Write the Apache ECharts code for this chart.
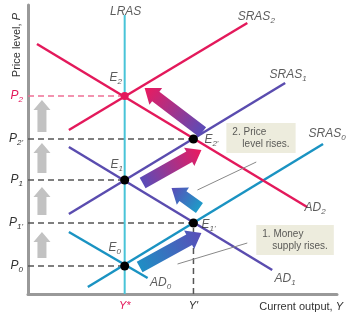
<!DOCTYPE html>
<html>
<head>
<meta charset="UTF-8">
<script src="https://cdn.jsdelivr.net/npm/echarts@6/dist/echarts.min.js"></script>
<style>
html, body { margin: 0; padding: 0; background: #fff; }
#main { width: 346px; height: 315px; }
</style>
</head>
<body>
<div id="main"></div>
<script>
// values (x = output, y = price level, arbitrary units)
var lras  = [[97, 0], [97, 279]];
var sras2 = [[41, 164], [220, 271]];
var ad2   = [[9, 250], [280, 87]];
var sras1 = [[41, 80], [258, 211]];
var ad1   = [[41, 147], [245, 24]];
var sras0 = [[60, 7], [296, 150]];
var ad0   = [[41, 62], [120, 16]];

var yStar = 97, yPrime = 166;
var pLevels = [28, 71, 114, 155, 198];
var pSubs = ['0', "1'", '1', "2'", '2'];

// equilibrium points
var eqPoints = [[166, 155], [97, 114], [166, 71], [97, 28]];
var eqTop = [[97, 198]];

// shift arrows: [x tail, y tail, x tip, y tip]
var shiftArrows = [[112, 27, 174, 61], [172, 86, 144, 106], [115, 111, 174, 144], [175, 162, 117, 206]];
var priceArrows = [[14, 36, 14, 62], [14, 79, 14, 107], [14, 121, 14, 151], [14, 162, 14, 194]];

// curve labels
var curveLabelPos = [[98, 282], [229, 277], [261, 219], [300, 160], [288, 86], [258, 15], [133, 11]];
var curveLabelText = ['LRAS', 'SRAS|2', 'SRAS|1', 'SRAS|0', 'AD|2', 'AD|1', 'AD|0'];
var eLabelPos = [[88, 216], [184, 154], [89, 129], [181, 69], [87, 46]];
var eLabelText = ['E|2', "E|2'", 'E|1', "E|1'", 'E|0'];

// notes
var notePos = [[199, 171], [229, 69]];
var noteLines = [['2. Price', 'level rises.'], ['1. Money', 'supply rises.']];
var leader1 = [[229, 132], [170, 104]];
var leader2 = [[220, 51], [150, 30]];

var RED = '#e3195b', PURPLE = '#5a4caf', BLUE = '#1a93c2', CYAN = '#48c4d8';

var chart = echarts.init(document.getElementById('main'));

var richSub = {
	v: { fontStyle: 'italic', fontSize: 12, color: '#333', fontFamily: 'Liberation Sans' },
	s: { fontStyle: 'italic', fontSize: 8, color: '#333', fontFamily: 'Liberation Sans', padding: [7, 0, 0, 0] },
	r: { fontStyle: 'italic', fontSize: 12, color: RED, fontFamily: 'Liberation Sans' },
	rs: { fontStyle: 'italic', fontSize: 8, color: RED, fontFamily: 'Liberation Sans', padding: [7, 0, 0, 0] }
};

function subText(t) {
	var parts = t.split('|');
	if (parts.length < 2) return '{v|' + parts[0] + '}';
	return '{v|' + parts[0] + '}{s|' + parts[1] + '}';
}

function lineSeries(data, color, width, type) {
	return {
		type: 'line',
		data: data,
		symbol: 'none',
		silent: true,
		z: 2,
		lineStyle: { color: color, width: width, type: type || 'solid' }
	};
}

function arrowRender(colors, bw, hw, hl) {
	return function (params, api) {
		var p0 = api.coord([api.value(0), api.value(1)]);
		var p1 = api.coord([api.value(2), api.value(3)]);
		var dx = p1[0] - p0[0], dy = p1[1] - p0[1];
		var len = Math.sqrt(dx * dx + dy * dy);
		dx /= len; dy /= len;
		var nx = -dy, ny = dx;
		var bx = p1[0] - dx * hl, by = p1[1] - dy * hl;
		var pts = [
			[p0[0] + nx * bw, p0[1] + ny * bw],
			[bx + nx * bw, by + ny * bw],
			[bx + nx * hw, by + ny * hw],
			[p1[0], p1[1]],
			[bx - nx * hw, by - ny * hw],
			[bx - nx * bw, by - ny * bw],
			[p0[0] - nx * bw, p0[1] - ny * bw]
		];
		var c = colors[params.dataIndex % colors.length];
		var fill = typeof c === 'string' ? c : new echarts.graphic.LinearGradient(
			p0[0], p0[1], p1[0], p1[1],
			[{ offset: 0, color: c[0] }, { offset: 1, color: c[1] }], true);
		return { type: 'polygon', shape: { points: pts }, style: { fill: fill } };
	};
}

var hLines = [];
pLevels.forEach(function (p, i) {
	var xEnd = (i % 2 === 0) ? yStar : yPrime;
	hLines.push(lineSeries([[0, p], [xEnd, p]], i === 4 ? '#ee6f95' : '#555', 1.5, [6, 4]));
});
hLines.push(lineSeries([[yPrime, 0], [yPrime, pLevels[1]]], '#555', 1.5, [6, 4]));

var option = {
	animation: false,
	grid: { left: 28, right: 8, top: 5, bottom: 21 },
	xAxis: {
		type: 'value', min: 0, max: 310,
		splitLine: { show: false },
		axisTick: { show: false },
		axisLine: { lineStyle: { color: '#999', width: 3 } },
		name: 'Current output, {i|Y}',
		nameLocation: 'end',
		nameGap: 6,
		nameTextStyle: {
			align: 'right', verticalAlign: 'top', padding: [7, 0, 0, 0],
			color: '#333', fontSize: 11, fontFamily: 'Liberation Sans',
			rich: { i: { fontStyle: 'italic', color: '#333', fontSize: 11, fontFamily: 'Liberation Sans' } }
		},
		axisLabel: {
			customValues: [yStar, yPrime],
			margin: 6,
			formatter: function (v) { return v === yStar ? '{r|Y*}' : '{v|Y\'}'; },
			rich: {
				r: { fontStyle: 'italic', fontSize: 11, color: RED, fontFamily: 'Liberation Sans' },
				v: { fontStyle: 'italic', fontSize: 11, color: '#333', fontFamily: 'Liberation Sans' }
			}
		}
	},
	yAxis: {
		type: 'value', min: 0, max: 289,
		splitLine: { show: false },
		axisTick: { show: false },
		axisLine: { lineStyle: { color: '#999', width: 3 } },
		name: 'Price level, {i|P}',
		nameLocation: 'end',
		nameRotate: 90,
		nameGap: -8,
		nameTextStyle: {
			align: 'right', verticalAlign: 'bottom', padding: [0, 0, 6, 0],
			color: '#333', fontSize: 11, fontFamily: 'Liberation Sans',
			rich: { i: { fontStyle: 'italic', color: '#333', fontSize: 11, fontFamily: 'Liberation Sans' } }
		},
		axisLabel: {
			customValues: pLevels,
			margin: 5,
			formatter: function (v) {
				var i = pLevels.indexOf(v);
				return i === 4 ? '{r|P}{rs|' + pSubs[i] + '}' : '{v|P}{s|' + pSubs[i] + '}';
			},
			rich: richSub
		}
	},
	series: hLines.concat([
		lineSeries(lras, CYAN, 2),
		lineSeries(sras0, BLUE, 2.5),
		lineSeries(ad0, BLUE, 2.5),
		lineSeries(sras1, PURPLE, 2.5),
		lineSeries(ad1, PURPLE, 2.5),
		lineSeries(sras2, RED, 2.5),
		lineSeries(ad2, RED, 2.5),
		lineSeries(leader1, '#888', 1),
		lineSeries(leader2, '#888', 1),
		{
			type: 'custom',
			silent: true,
			z: 3,
			renderItem: arrowRender(['#c2c2c2'], 4.5, 8.5, 10),
			encode: { x: [0, 2], y: [1, 3] },
			data: priceArrows
		},
		{
			type: 'custom',
			silent: true,
			z: 3,
			renderItem: arrowRender([
				['#1f8ec4', '#5a4cb8'],
				['#1e9bc8', '#5a4cb8'],
				['#5a4cb8', '#ec1a5e'],
				['#5a4cb8', '#ec1a5e']
			], 6, 10.5, 14),
			encode: { x: [0, 2], y: [1, 3] },
			data: shiftArrows
		},
		{
			type: 'scatter',
			silent: true,
			z: 10,
			symbolSize: 9,
			itemStyle: { color: '#000', opacity: 1 },
			data: eqPoints
		},
		{
			type: 'scatter',
			silent: true,
			z: 10,
			symbolSize: 8,
			itemStyle: { color: RED, opacity: 1 },
			data: eqTop
		},
		{
			type: 'scatter',
			silent: true,
			z: 10,
			symbolSize: 0,
			data: curveLabelPos.map(function (p, i) { return { value: p, name: curveLabelText[i] }; }),
			label: {
				show: true, position: 'inside',
				align: 'center', verticalAlign: 'middle',
				formatter: function (p) { return subText(p.name); },
				rich: richSub
			}
		},
		{
			type: 'scatter',
			silent: true,
			z: 10,
			symbolSize: 0,
			data: eLabelPos.map(function (p, i) { return { value: p, name: eLabelText[i] }; }),
			label: {
				show: true, position: 'inside',
				formatter: function (p) { return subText(p.name); },
				rich: richSub
			}
		},
		{
			type: 'scatter',
			silent: true,
			z: 10,
			symbolSize: 0,
			data: notePos.map(function (p, i) { return { value: p, name: noteLines[i].join('|') }; }),
			label: {
				show: true, position: 'inside',
				align: 'left', verticalAlign: 'top',
				backgroundColor: '#e9e7d5',
				padding: [3, 6, 3, 6],
				formatter: function (p) {
					var l = p.name.split('|');
					return '{a|' + l[0] + '}\n{b|' + l[1] + '}';
				},
				rich: {
					a: { fontSize: 10, lineHeight: 12, color: '#333', fontFamily: 'Liberation Sans' },
					b: { fontSize: 10, lineHeight: 12, color: '#333', fontFamily: 'Liberation Sans', padding: [0, 0, 0, 10] }
				}
			}
		}
	])
};
chart.setOption(option);
</script>
</body>
</html>
